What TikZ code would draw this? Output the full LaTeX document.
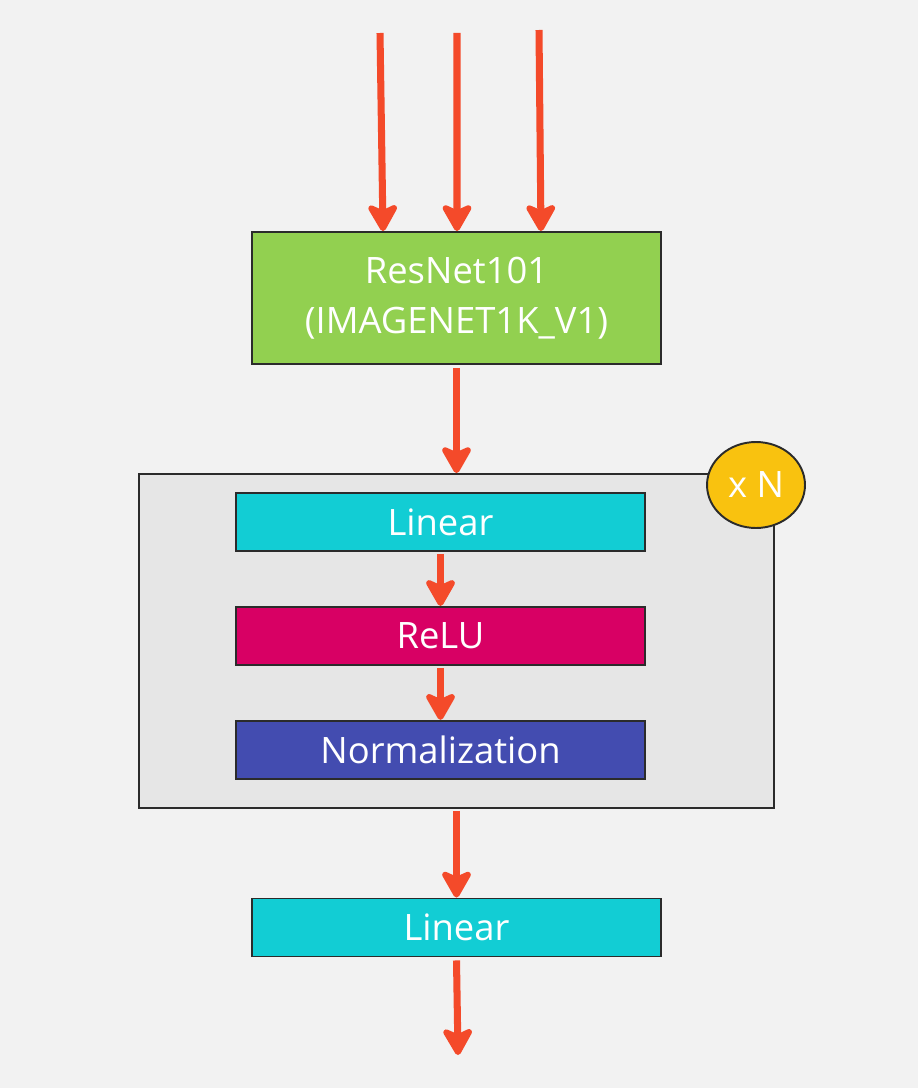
\documentclass[tikz,border=0pt]{standalone}
\usepackage{fontspec}
\setmainfont{Open Sans}
\usetikzlibrary{arrows.meta,positioning,shapes.geometric}

\definecolor{bgcol}{HTML}{F2F2F2}
\definecolor{boxgray}{HTML}{E6E6E6}
\definecolor{arrowcol}{HTML}{F44A2A}
\definecolor{resgreen}{HTML}{92D050}
\definecolor{lincyan}{HTML}{12CDD4}
\definecolor{relupink}{HTML}{D80064}
\definecolor{normblue}{HTML}{434CB0}
\definecolor{repyellow}{HTML}{F9C20F}
\definecolor{edgecol}{HTML}{2B2B2B}

\tikzset{
  layer/.style={draw=edgecol, line width=1.1pt, text=white, font=\fontsize{20.7}{28.5}\selectfont,
    minimum width=8.18cm, minimum height=1.16cm, inner sep=0pt, align=center},
  flow/.style={draw=arrowcol, line width=4pt, -{Stealth[length=0.64cm, width=0.72cm, inset=0.16cm, round]}},
}

\begin{document}
\begin{tikzpicture}[x=0.02cm, y=-0.02cm]
  \fill[bgcol] (0,0) rectangle (918,1088);
  \useasboundingbox (0,0) rectangle (918,1088);

  \node[layer, fill=resgreen, minimum height=2.64cm] (resnet) at (456.5,298) {ResNet101\\(IMAGENET1K\_V1)};
  \node[draw=edgecol, line width=1.1pt, fill=boxgray, minimum width=12.7cm, minimum height=6.68cm] (block) at (456.5,641) {};
  \node[layer, fill=lincyan]  (lin1) at (440.5,522) {Linear};
  \node[layer, fill=relupink] (relu) [below=1.08cm of lin1] {ReLU};
  \node[layer, fill=normblue] (norm) [below=1.08cm of relu] {Normalization};
  \node[draw=edgecol, line width=1.1pt, fill=repyellow, ellipse, minimum width=1.96cm, minimum height=1.72cm,
        text=white, font=\fontsize{20.7}{24}\selectfont, inner sep=0pt] (rep) at (756,485) {x N};
  \node[layer, fill=lincyan]  (lin2) at (456.5,927.5) {Linear};

  \coordinate (in1) at (380,33);
  \coordinate (in2) at (457,33);
  \coordinate (in3) at (539,30);
  \coordinate (out) at (458,1055);

  \draw[flow] (in1) -- ([xshift=-1.47cm]resnet.north);
  \draw[flow] (in2) -- ([xshift=0.01cm]resnet.north);
  \draw[flow] (in3) -- ([xshift=1.69cm]resnet.north);
  \draw[flow] ([yshift=-0.06cm]resnet.south) -- (block.north);
  \draw[flow] ([yshift=-0.04cm]lin1.south) -- (relu.north);
  \draw[flow] ([yshift=-0.04cm]relu.south) -- (norm.north);
  \draw[flow] ([yshift=-0.04cm]block.south) -- (lin2.north);
  \draw[flow] ([yshift=-0.06cm]lin2.south) -- (out);
\end{tikzpicture}
\end{document}
